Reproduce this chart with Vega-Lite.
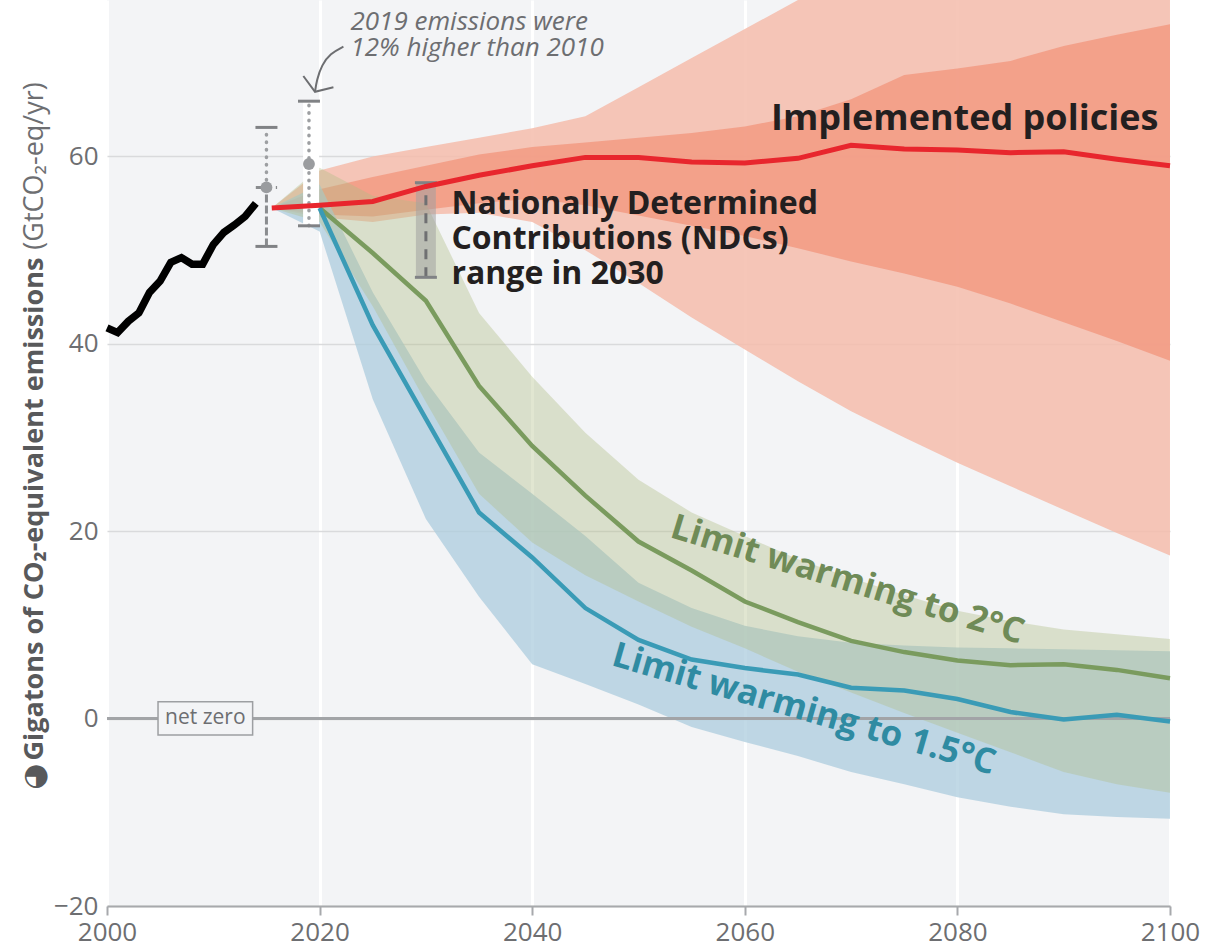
{
 "$schema": "https://vega.github.io/schema/vega-lite/v6.json",
 "width": 1063,
 "height": 906,
 "autosize": {"type": "none"},
 "padding": {"left": 107, "top": 0, "right": 41, "bottom": 46},
 "background": "#ffffff",
 "config": {"view": {"fill": "#f3f4f6", "stroke": null}, "font": "Open Sans"},
 "datasets": {
  "redOuter": [
   {"year": 2015.5, "v": 54.5, "v2": 54.5}, {"year": 2020, "v": 53.5, "v2": 58.5}, {"year": 2025, "v": 53.0, "v2": 60.0},
   {"year": 2030, "v": 53.8, "v2": 61.0}, {"year": 2035, "v": 54.0, "v2": 62.0}, {"year": 2040, "v": 53.0, "v2": 63.0},
   {"year": 2045, "v": 50.0, "v2": 64.3}, {"year": 2050, "v": 46.5, "v2": 67.4}, {"year": 2055, "v": 42.8, "v2": 70.5},
   {"year": 2060, "v": 39.4, "v2": 73.6}, {"year": 2065, "v": 36.0, "v2": 76.7}, {"year": 2070, "v": 32.8, "v2": 79.8},
   {"year": 2075, "v": 30.0, "v2": 82.0}, {"year": 2080, "v": 27.3, "v2": 84.0}, {"year": 2085, "v": 24.8, "v2": 86.0},
   {"year": 2090, "v": 22.3, "v2": 88.0}, {"year": 2095, "v": 19.8, "v2": 89.0}, {"year": 2100, "v": 17.4, "v2": 90.0}
  ],
  "redInner": [
   {"year": 2015.5, "v": 54.5, "v2": 54.5}, {"year": 2020, "v": 53.8, "v2": 56.5}, {"year": 2025, "v": 53.6, "v2": 57.8},
   {"year": 2030, "v": 54.3, "v2": 59.0}, {"year": 2035, "v": 55.0, "v2": 60.2}, {"year": 2040, "v": 55.5, "v2": 61.0},
   {"year": 2045, "v": 54.8, "v2": 61.5}, {"year": 2050, "v": 53.7, "v2": 62.0}, {"year": 2055, "v": 52.6, "v2": 62.5},
   {"year": 2060, "v": 51.5, "v2": 63.2}, {"year": 2065, "v": 50.2, "v2": 64.3}, {"year": 2070, "v": 48.8, "v2": 66.1},
   {"year": 2075, "v": 47.5, "v2": 68.7}, {"year": 2080, "v": 46.1, "v2": 69.4}, {"year": 2085, "v": 44.3, "v2": 70.2},
   {"year": 2090, "v": 42.3, "v2": 71.8}, {"year": 2095, "v": 40.3, "v2": 73.0}, {"year": 2100, "v": 38.2, "v2": 74.1}
  ],
  "blueBand": [
   {"year": 2015.5, "v": 54.5, "v2": 54.5}, {"year": 2020, "v": 52.0, "v2": 57.0}, {"year": 2025, "v": 34.1, "v2": 45.5},
   {"year": 2030, "v": 21.3, "v2": 36.0}, {"year": 2035, "v": 13.0, "v2": 28.4}, {"year": 2040, "v": 5.8, "v2": 24.0},
   {"year": 2045, "v": 3.7, "v2": 19.5}, {"year": 2050, "v": 1.5, "v2": 14.5}, {"year": 2055, "v": -0.9, "v2": 11.8},
   {"year": 2060, "v": -2.5, "v2": 9.9}, {"year": 2065, "v": -4.0, "v2": 8.8}, {"year": 2070, "v": -5.7, "v2": 8.1},
   {"year": 2075, "v": -7.0, "v2": 7.8}, {"year": 2080, "v": -8.4, "v2": 7.6}, {"year": 2085, "v": -9.4, "v2": 7.5},
   {"year": 2090, "v": -10.2, "v2": 7.4}, {"year": 2095, "v": -10.5, "v2": 7.3}, {"year": 2100, "v": -10.7, "v2": 7.2}
  ],
  "greenBand": [
   {"year": 2015.5, "v": 54.5, "v2": 54.5}, {"year": 2020, "v": 53.0, "v2": 58.8}, {"year": 2025, "v": 44.0, "v2": 55.8},
   {"year": 2030, "v": 33.8, "v2": 55.0}, {"year": 2035, "v": 24.0, "v2": 43.3}, {"year": 2040, "v": 18.8, "v2": 36.5},
   {"year": 2045, "v": 15.3, "v2": 30.5}, {"year": 2050, "v": 12.5, "v2": 25.5}, {"year": 2055, "v": 9.8, "v2": 22.0},
   {"year": 2060, "v": 7.5, "v2": 19.5}, {"year": 2065, "v": 5.0, "v2": 17.0}, {"year": 2070, "v": 2.8, "v2": 15.0},
   {"year": 2075, "v": 0.6, "v2": 13.2}, {"year": 2080, "v": -1.5, "v2": 11.5}, {"year": 2085, "v": -3.6, "v2": 10.4},
   {"year": 2090, "v": -5.7, "v2": 9.5}, {"year": 2095, "v": -7.0, "v2": 9.0}, {"year": 2100, "v": -7.9, "v2": 8.5}
  ],
  "hist": [
   {"year": 2000, "v": 41.7}, {"year": 2001, "v": 41.2}, {"year": 2002, "v": 42.4}, {"year": 2003, "v": 43.3},
   {"year": 2004, "v": 45.5}, {"year": 2005, "v": 46.7}, {"year": 2006, "v": 48.7}, {"year": 2007, "v": 49.2},
   {"year": 2008, "v": 48.5}, {"year": 2009, "v": 48.5}, {"year": 2010, "v": 50.6}, {"year": 2011, "v": 51.9},
   {"year": 2012, "v": 52.7}, {"year": 2013, "v": 53.6}, {"year": 2014, "v": 55.0}
  ],
  "redMed": [
   {"year": 2015.5, "v": 54.5}, {"year": 2020, "v": 54.8}, {"year": 2025, "v": 55.2}, {"year": 2030, "v": 56.8},
   {"year": 2035, "v": 58.0}, {"year": 2040, "v": 59.0}, {"year": 2045, "v": 59.9}, {"year": 2050, "v": 59.9},
   {"year": 2055, "v": 59.4}, {"year": 2060, "v": 59.3}, {"year": 2065, "v": 59.8}, {"year": 2070, "v": 61.2},
   {"year": 2075, "v": 60.8}, {"year": 2080, "v": 60.7}, {"year": 2085, "v": 60.4}, {"year": 2090, "v": 60.5},
   {"year": 2095, "v": 59.7}, {"year": 2100, "v": 59.0}
  ],
  "greenMed": [
   {"year": 2020, "v": 54.5}, {"year": 2025, "v": 49.7}, {"year": 2030, "v": 44.6}, {"year": 2035, "v": 35.5},
   {"year": 2040, "v": 29.1}, {"year": 2045, "v": 23.8}, {"year": 2050, "v": 18.9}, {"year": 2055, "v": 15.8},
   {"year": 2060, "v": 12.5}, {"year": 2065, "v": 10.3}, {"year": 2070, "v": 8.3}, {"year": 2075, "v": 7.1},
   {"year": 2080, "v": 6.2}, {"year": 2085, "v": 5.7}, {"year": 2090, "v": 5.8}, {"year": 2095, "v": 5.2},
   {"year": 2100, "v": 4.3}
  ],
  "blueMed": [
   {"year": 2020, "v": 54.5}, {"year": 2025, "v": 42.0}, {"year": 2030, "v": 32.0}, {"year": 2035, "v": 22.0},
   {"year": 2040, "v": 17.2}, {"year": 2045, "v": 11.8}, {"year": 2050, "v": 8.4}, {"year": 2055, "v": 6.3},
   {"year": 2060, "v": 5.4}, {"year": 2065, "v": 4.7}, {"year": 2070, "v": 3.3}, {"year": 2075, "v": 3.0},
   {"year": 2080, "v": 2.1}, {"year": 2085, "v": 0.7}, {"year": 2090, "v": -0.1}, {"year": 2095, "v": 0.4},
   {"year": 2100, "v": -0.3}
  ],
  "zero": [{"year": 2000, "year2": 2100, "v": 0}],
  "strip": [{"year": 2019.2, "v": 52.6, "v2": 65.9}],
  "ndc": [{"year": 2030, "v": 47.1, "v2": 57.2}],
  "dotted": [{"year": 2015, "v": 56.7, "v2": 63.1}, {"year": 2019, "v": 52.6, "v2": 65.9}],
  "dashed15": [{"year": 2015, "v": 50.4, "v2": 56.7}],
  "hdash": [{"year": 2014.0, "year2": 2016.0, "v": 56.7}],
  "caps": [
   {"year": 2015, "v": 63.1}, {"year": 2015, "v": 50.4}, {"year": 2019, "v": 65.9}, {"year": 2019, "v": 52.6},
   {"year": 2030, "v": 57.2}, {"year": 2030, "v": 47.1}
  ],
  "dots": [{"year": 2015, "v": 56.7}, {"year": 2019, "v": 59.2}],
  "arrowCurve": [
   {"i": 1, "year": 2022.24, "v": 71.72}, {"i": 2, "year": 2021.0, "v": 71.0}, {"i": 3, "year": 2020.2, "v": 69.76},
   {"i": 4, "year": 2019.73, "v": 68.16}, {"i": 5, "year": 2019.57, "v": 66.9}
  ],
  "arrowHead": [
   {"i": 1, "year": 2018.47, "v": 68.59}, {"i": 2, "year": 2019.57, "v": 66.9}, {"i": 3, "year": 2021.3, "v": 67.38}
  ],
  "netZeroBox": [{"year": 2004.8, "year2": 2013.7, "v": -1.75, "v2": 1.81}],
  "netZeroText": [{"year": 2009.25, "v": 0.05, "text": "net zero"}],
  "annText": [{"year": 2022.9, "v": 73.5, "text": "2019 emissions were\n12% higher than 2010"}],
  "implText": [{"year": 2098.9, "v": 62.8, "text": "Implemented policies"}],
  "ndcText": [{"year": 2032.4, "v": 53.9, "text": "Nationally Determined\nContributions (NDCs)\nrange in 2030"}],
  "lim2Text": [{"year": 2069.66, "v": 14.8, "text": "Limit warming to 2°C"}],
  "lim15Text": [{"year": 2065.57, "v": 1.0, "text": "Limit warming to 1.5°C"}],
  "titleBold": [{"year": 1993.2, "v": 49.2, "text": "Gigatons of CO₂-equivalent emissions"}],
  "titleNormal": [{"year": 1993.2, "v": 49.2, "text": "(GtCO₂-eq/yr)"}],
  "titleIcon": [{"year": 1993.2, "v": -6.2, "text": "◕"}]
 },
 "encoding": {
  "x": {
   "field": "year", "type": "quantitative",
   "scale": {"domain": [2000, 2100], "nice": false, "zero": false},
   "axis": {
    "values": [2000, 2020, 2040, 2060, 2080, 2100], "format": "d", "title": null,
    "labelFontSize": 26, "labelColor": "#6d6e71", "labelFont": "Open Sans", "labelPadding": 4,
    "domainColor": "#a7a9ac", "domainWidth": 2, "tickColor": "#a7a9ac", "tickWidth": 2, "tickSize": 9,
    "grid": true, "gridColor": "#ffffff", "gridWidth": 3, "labelFlush": false
   }
  },
  "y": {
   "field": "v", "type": "quantitative",
   "scale": {"domain": [-20, 76.7], "nice": false, "zero": false},
   "axis": {
    "values": [-20, 0, 20, 40, 60], "title": null,
    "labelFontSize": 26, "labelColor": "#6d6e71", "labelFont": "Open Sans", "labelPadding": 9,
    "domain": false, "ticks": false, "grid": true, "gridColor": "#d9dadc", "gridWidth": 1.5
   }
  }
 },
 "layer": [
  {"data": {"name": "redOuter"}, "mark": {"type": "area", "color": "#f4bcab", "opacity": 0.85, "clip": true}, "encoding": {"y2": {"field": "v2"}}},
  {"data": {"name": "redInner"}, "mark": {"type": "area", "color": "#f29a82", "opacity": 0.85, "clip": true}, "encoding": {"y2": {"field": "v2"}}},
  {"data": {"name": "blueBand"}, "mark": {"type": "area", "color": "#acccde", "opacity": 0.75}, "encoding": {"y2": {"field": "v2"}}},
  {"data": {"name": "greenBand"}, "mark": {"type": "area", "color": "#afbd85", "opacity": 0.38}, "encoding": {"y2": {"field": "v2"}}},
  {"data": {"name": "zero"}, "mark": {"type": "rule", "color": "#a2a4a7", "strokeWidth": 3}, "encoding": {"x2": {"field": "year2"}}},
  {"data": {"name": "strip"}, "mark": {"type": "rule", "color": "#ffffff", "strokeWidth": 16, "strokeCap": "butt"}, "encoding": {"y2": {"field": "v2"}}},
  {"data": {"name": "ndc"}, "mark": {"type": "rule", "color": "#a0a0a0", "opacity": 0.55, "strokeWidth": 20, "strokeCap": "butt"}, "encoding": {"y2": {"field": "v2"}}},
  {"data": {"name": "ndc"}, "mark": {"type": "rule", "color": "#6f7072", "strokeWidth": 3, "strokeDash": [10, 8]}, "encoding": {"y2": {"field": "v2"}}},
  {"data": {"name": "dotted"}, "mark": {"type": "rule", "color": "#9d9fa2", "strokeWidth": 3.5, "strokeDash": [0.5, 7], "strokeCap": "round"}, "encoding": {"y2": {"field": "v2"}}},
  {"data": {"name": "dashed15"}, "mark": {"type": "rule", "color": "#8a8c8f", "strokeWidth": 3, "strokeDash": [8, 3]}, "encoding": {"y2": {"field": "v2"}}},
  {"data": {"name": "hdash"}, "mark": {"type": "rule", "color": "#8a8c8f", "strokeWidth": 3, "strokeDash": [6, 4]}, "encoding": {"x2": {"field": "year2"}}},
  {"data": {"name": "caps"}, "mark": {"type": "tick", "orient": "horizontal", "color": "#808285", "size": 22, "thickness": 3, "opacity": 1}},
  {"data": {"name": "dots"}, "mark": {"type": "point", "filled": true, "color": "#9a9c9f", "size": 140, "opacity": 1}},
  {"data": {"name": "hist"}, "mark": {"type": "line", "color": "#000000", "strokeWidth": 7.5, "strokeJoin": "miter"}},
  {"data": {"name": "greenMed"}, "mark": {"type": "line", "color": "#7a9b5e", "strokeWidth": 4.5}},
  {"data": {"name": "blueMed"}, "mark": {"type": "line", "color": "#3a9bb6", "strokeWidth": 4.5}},
  {"data": {"name": "redMed"}, "mark": {"type": "line", "color": "#e8262d", "strokeWidth": 5}},
  {"data": {"name": "arrowCurve"}, "mark": {"type": "line", "color": "#6d6e71", "strokeWidth": 2, "interpolate": "basis"}, "encoding": {"order": {"field": "i", "type": "quantitative"}}},
  {"data": {"name": "arrowHead"}, "mark": {"type": "line", "color": "#6d6e71", "strokeWidth": 2}, "encoding": {"order": {"field": "i", "type": "quantitative"}}},
  {"data": {"name": "netZeroBox"}, "mark": {"type": "rect", "fill": "#f3f4f6", "stroke": "#9d9fa2", "strokeWidth": 1.5}, "encoding": {"x2": {"field": "year2"}, "y2": {"field": "v2"}}},
  {"data": {"name": "netZeroText"}, "mark": {"type": "text", "fontSize": 21, "color": "#6d6e71", "align": "center", "baseline": "middle"}, "encoding": {"text": {"field": "text"}}},
  {"data": {"name": "annText"}, "mark": {"type": "text", "fontSize": 26, "fontStyle": "italic", "color": "#6d6e71", "align": "left", "baseline": "alphabetic", "lineBreak": "\n", "lineHeight": 26}, "encoding": {"text": {"field": "text"}}},
  {"data": {"name": "implText"}, "mark": {"type": "text", "fontSize": 36, "fontWeight": "bold", "color": "#231f20", "align": "right", "baseline": "alphabetic"}, "encoding": {"text": {"field": "text"}}},
  {"data": {"name": "ndcText"}, "mark": {"type": "text", "fontSize": 32, "fontWeight": "bold", "color": "#231f20", "align": "left", "baseline": "alphabetic", "lineBreak": "\n", "lineHeight": 35}, "encoding": {"text": {"field": "text"}}},
  {"data": {"name": "lim2Text"}, "mark": {"type": "text", "fontSize": 35, "fontWeight": "bold", "color": "#6f8b57", "align": "center", "baseline": "middle", "angle": 17}, "encoding": {"text": {"field": "text"}}},
  {"data": {"name": "lim15Text"}, "mark": {"type": "text", "fontSize": 35, "fontWeight": "bold", "color": "#2f8ba2", "align": "center", "baseline": "middle", "angle": 16}, "encoding": {"text": {"field": "text"}}},
  {"data": {"name": "titleBold"}, "mark": {"type": "text", "fontSize": 27, "fontWeight": "bold", "color": "#58595b", "align": "right", "baseline": "middle", "angle": 270}, "encoding": {"text": {"field": "text"}}},
  {"data": {"name": "titleNormal"}, "mark": {"type": "text", "fontSize": 27, "color": "#6d6e71", "align": "left", "baseline": "middle", "angle": 270, "dx": 8}, "encoding": {"text": {"field": "text"}}},
  {"data": {"name": "titleIcon"}, "mark": {"type": "text", "fontSize": 30, "font": "DejaVu Sans", "color": "#58595b", "align": "center", "baseline": "middle", "angle": 270}, "encoding": {"text": {"field": "text"}}}
 ]
}
